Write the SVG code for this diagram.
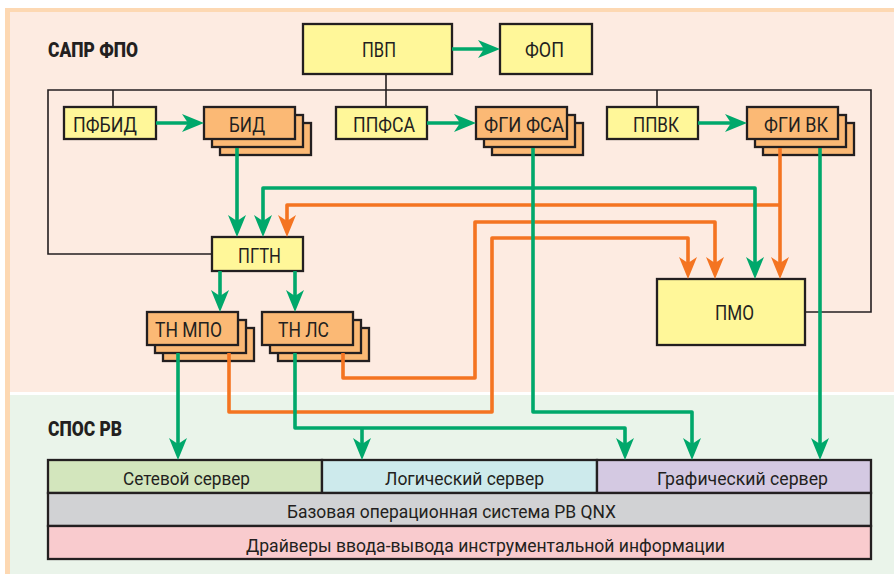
<svg xmlns="http://www.w3.org/2000/svg" width="894" height="574" viewBox="0 0 894 574">
<style>
.box{stroke:#231F20;stroke-width:2.3}
.y{fill:#FFF799}
.o{fill:#FBB975}
.t{font-family:Roboto,"Liberation Sans",sans-serif;font-size:20.5px;fill:#231F20}
.s{font-family:Roboto,"Liberation Sans",sans-serif;font-size:18.5px;fill:#231F20}
.h{font-family:Roboto,"Liberation Sans",sans-serif;font-size:20px;font-weight:900;fill:#231F20}
.k{fill:none;stroke:#231F20;stroke-width:1.6}
.g{fill:none;stroke:#00A86B;stroke-width:3.6;stroke-linejoin:round}
.r{fill:none;stroke:#F47421;stroke-width:3.6;stroke-linejoin:round}
</style>
<defs>
<marker id="ag" markerUnits="userSpaceOnUse" markerWidth="24" markerHeight="20" viewBox="0 0 24 20" refX="16" refY="10" orient="auto-start-reverse"><path d="M24,10 L2,1 L8,10 L2,19 Z" fill="#00A86B"/></marker>
<marker id="ar" markerUnits="userSpaceOnUse" markerWidth="24" markerHeight="20" viewBox="0 0 24 20" refX="16" refY="10" orient="auto-start-reverse"><path d="M24,10 L2,1 L8,10 L2,19 Z" fill="#F47421"/></marker>
</defs>
<g id="background">
<rect x="5" y="8" width="889" height="566" fill="#FDD8B2"/>
<rect x="10" y="12" width="884" height="380" fill="#FDEBE1"/>
<rect x="10" y="392" width="884" height="3" fill="#FFFFFF"/>
<rect x="10" y="395" width="884" height="179" fill="#EAF4EA"/>
<text class="h" x="48" y="57" textLength="90" lengthAdjust="spacingAndGlyphs">САПР ФПО</text>
<text class="h" x="48" y="436" textLength="74" lengthAdjust="spacingAndGlyphs">СПОС РВ</text>
</g>
<g id="bus">
<path class="k" d="M212,254 H48 V90 H871 V312 H805"/>
<path class="k" d="M386,74 V107 M113,90 V107 M657,90 V107"/>
</g>
<g id="n-pvp"><rect class="box y" x="303" y="24" width="149" height="50"/><text class="t" x="362" y="57" textLength="34" lengthAdjust="spacingAndGlyphs">ПВП</text></g>
<g id="n-fop"><rect class="box y" x="500" y="24" width="92" height="50"/><text class="t" x="525" y="57" textLength="39" lengthAdjust="spacingAndGlyphs">ФОП</text></g>
<g id="n-pfbid"><rect class="box y" x="64" y="107" width="92" height="32"/><text class="t" x="73" y="132" textLength="64" lengthAdjust="spacingAndGlyphs">ПФБИД</text></g>
<g id="n-bid"><rect class="box o" x="220" y="123" width="91" height="32"/><rect class="box o" x="212" y="115" width="91" height="32"/><rect class="box o" x="204" y="107" width="91" height="32"/><text class="t" x="229" y="132" textLength="36" lengthAdjust="spacingAndGlyphs">БИД</text></g>
<g id="n-ppfsa"><rect class="box y" x="336" y="107" width="91" height="32"/><text class="t" x="353" y="132" textLength="62" lengthAdjust="spacingAndGlyphs">ППФСА</text></g>
<g id="n-fgifsa"><rect class="box o" x="492" y="123" width="91" height="32"/><rect class="box o" x="484" y="115" width="91" height="32"/><rect class="box o" x="476" y="107" width="91" height="32"/><text class="t" x="484" y="132" textLength="80" lengthAdjust="spacingAndGlyphs">ФГИ ФСА</text></g>
<g id="n-ppvk"><rect class="box y" x="607" y="107" width="91" height="32"/><text class="t" x="633" y="132" textLength="46" lengthAdjust="spacingAndGlyphs">ППВК</text></g>
<g id="n-fgivk"><rect class="box o" x="763" y="123" width="91" height="32"/><rect class="box o" x="755" y="115" width="91" height="32"/><rect class="box o" x="747" y="107" width="91" height="32"/><text class="t" x="764" y="132" textLength="64" lengthAdjust="spacingAndGlyphs">ФГИ ВК</text></g>
<g id="n-pgtn"><rect class="box y" x="212" y="237" width="91" height="34"/><text class="t" x="238" y="263" textLength="43" lengthAdjust="spacingAndGlyphs">ПГТН</text></g>
<g id="n-tnmpo"><rect class="box o" x="163" y="328" width="91" height="33"/><rect class="box o" x="155" y="320" width="91" height="33"/><rect class="box o" x="147" y="312" width="91" height="33"/><text class="t" x="155" y="337" textLength="67" lengthAdjust="spacingAndGlyphs">ТН МПО</text></g>
<g id="n-tnls"><rect class="box o" x="278" y="328" width="91" height="33"/><rect class="box o" x="270" y="320" width="91" height="33"/><rect class="box o" x="262" y="312" width="91" height="33"/><text class="t" x="278" y="337" textLength="51" lengthAdjust="spacingAndGlyphs">ТН ЛС</text></g>
<g id="n-pmo"><rect class="box y" x="657" y="279" width="148" height="66"/><text class="t" x="715" y="320" textLength="39" lengthAdjust="spacingAndGlyphs">ПМО</text></g>
<g id="n-servers">
<rect class="box" x="48" y="460" width="274" height="33" fill="#D3E6BD"/>
<rect class="box" x="322" y="460" width="275" height="33" fill="#CDEAEC"/>
<rect class="box" x="597" y="460" width="274" height="33" fill="#D4C9E2"/>
<text class="s" x="123" y="485" textLength="127" lengthAdjust="spacingAndGlyphs">Сетевой сервер</text>
<text class="s" x="385" y="485" textLength="159" lengthAdjust="spacingAndGlyphs">Логический сервер</text>
<text class="s" x="657" y="485" textLength="171" lengthAdjust="spacingAndGlyphs">Графический сервер</text>
</g>
<g id="n-base"><rect class="box" x="48" y="493" width="823" height="33" fill="#D1D2D4"/><text class="s" x="287" y="518" textLength="329" lengthAdjust="spacingAndGlyphs">Базовая операционная система РВ QNX</text></g>
<g id="n-drivers"><rect class="box" x="48" y="526" width="823" height="33" fill="#F9CBCE"/><text class="s" x="246" y="552" textLength="479" lengthAdjust="spacingAndGlyphs">Драйверы ввода-вывода инструментальной информации</text></g>
<g id="connectors">
<path class="r" d="M780,148 V271" marker-end="url(#ar)"/>
<path class="r" d="M780,205 H287 V229" marker-end="url(#ar)"/>
<path class="r" d="M343,353 V378 H475 V222 H715 V271" marker-end="url(#ar)"/>
<path class="r" d="M229,353 V412 H492 V238 H688 V271" marker-end="url(#ar)"/>
<path class="g" d="M452,49 H492" marker-end="url(#ag)"/>
<path class="g" d="M156,123 H196" marker-end="url(#ag)"/>
<path class="g" d="M427,123 H468" marker-end="url(#ag)"/>
<path class="g" d="M698,123 H739" marker-end="url(#ag)"/>
<path class="g" d="M237,148 V229" marker-end="url(#ag)"/>
<path class="g" d="M263,229 V188 H755 V271" marker-start="url(#ag)" marker-end="url(#ag)"/>
<path class="g" d="M220,271 V304" marker-end="url(#ag)"/>
<path class="g" d="M295,271 V304" marker-end="url(#ag)"/>
<path class="g" d="M533,148 V412 H692 V452" marker-end="url(#ag)"/>
<path class="g" d="M820,148 V452" marker-end="url(#ag)"/>
<path class="g" d="M178,353 V452" marker-end="url(#ag)"/>
<path class="g" d="M295,353 V428 H625 V452" marker-end="url(#ag)"/>
<path class="g" d="M362,428 V452" marker-end="url(#ag)"/>
</g>
</svg>
